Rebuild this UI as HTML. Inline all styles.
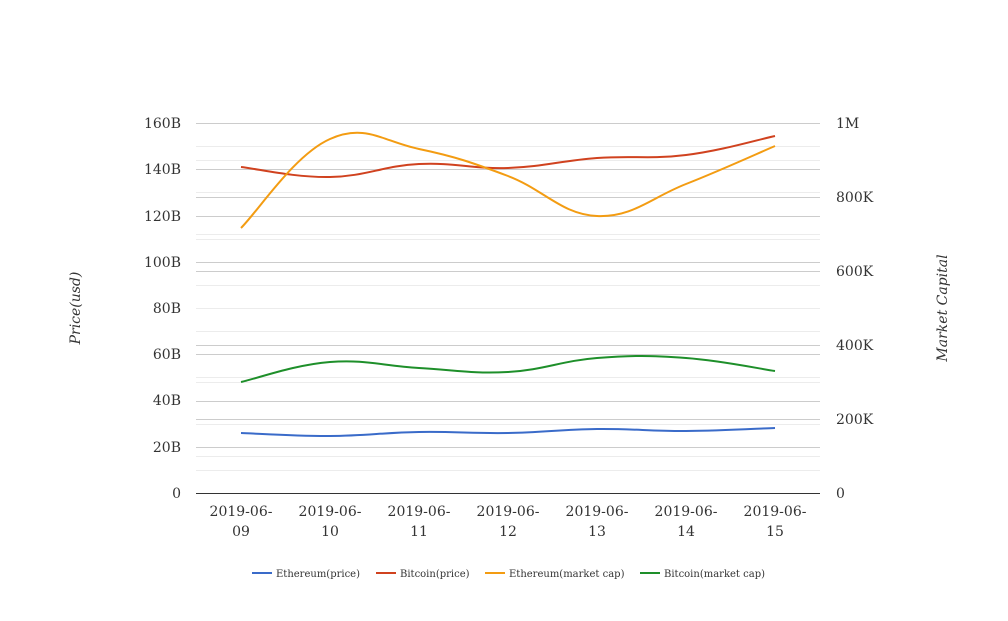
<!DOCTYPE html>
<html><head><meta charset="utf-8"><style>
html,body{margin:0;padding:0;background:#fff;}
svg text{font-family:"DejaVu Serif","Liberation Serif",serif;fill:#333;}
</style></head><body>
<svg id="s" width="1008" height="616" xmlns="http://www.w3.org/2000/svg">
<g id="grid"></g>
<g font-size="14">
<text x="181" y="128" text-anchor="end">160B</text>
<text x="181" y="174" text-anchor="end">140B</text>
<text x="181" y="221" text-anchor="end">120B</text>
<text x="181" y="267" text-anchor="end">100B</text>
<text x="181" y="313" text-anchor="end">80B</text>
<text x="181" y="359" text-anchor="end">60B</text>
<text x="181" y="405" text-anchor="end">40B</text>
<text x="181" y="452" text-anchor="end">20B</text>
<text x="181" y="498" text-anchor="end">0</text>
<text x="836" y="128">1M</text>
<text x="836" y="202">800K</text>
<text x="836" y="276">600K</text>
<text x="836" y="350">400K</text>
<text x="836" y="424">200K</text>
<text x="836" y="498">0</text>
</g>
<g font-size="14" text-anchor="middle" id="xl"></g>
<text font-size="14" font-style="italic" transform="translate(80,308) rotate(-90)" text-anchor="middle">Price(usd)</text>
<text font-size="14" font-style="italic" transform="translate(947,308) rotate(-90)" text-anchor="middle">Market Capital</text>
<line x1="196" y1="493.5" x2="820" y2="493.5" stroke="#333" stroke-width="1"/>
<g id="lines" fill="none" stroke-width="2"></g>
<g font-size="10">
<line x1="252" y1="573" x2="272" y2="573" stroke="#3a6bc9" stroke-width="2"/><text x="276" y="577">Ethereum(price)</text>
<line x1="376" y1="573" x2="396" y2="573" stroke="#d0421f" stroke-width="2"/><text x="400" y="577">Bitcoin(price)</text>
<line x1="485" y1="573" x2="505" y2="573" stroke="#f39c12" stroke-width="2"/><text x="509" y="577">Ethereum(market cap)</text>
<line x1="640" y1="573" x2="660" y2="573" stroke="#1e8f2a" stroke-width="2"/><text x="664" y="577">Bitcoin(market cap)</text>
</g>
</svg>
<script>
var ns="http://www.w3.org/2000/svg";
function el(p,t,a){var e=document.createElementNS(ns,t);for(var k in a)e.setAttribute(k,a[k]);p.appendChild(e);return e;}
var g=document.getElementById('grid');
function hl(y,c){el(g,'line',{x1:196,x2:820,y1:y+0.5,y2:y+0.5,stroke:c,'stroke-width':1});}
for(var i=0;i<8;i++){hl(Math.round(123+46.25*i+23.1),'#ececec');hl(Math.round(123+46.25*i),'#cccccc');}
for(var i=0;i<5;i++){hl(Math.round(123+74*i+37),'#ececec');hl(Math.round(123+74*i),'#cccccc');}
var xs=[241,330,419,508,597,686,775];
var xl=document.getElementById('xl');
xs.forEach(function(x,i){var t=el(xl,'text',{x:x,y:516});t.textContent='2019-06-';var t2=el(xl,'text',{x:x,y:536});t2.textContent=(9+i<10?'0':'')+(9+i);});
var data=[
['#3a6bc9',[433,436,432,433,429,431,428]],
['#d0421f',[167,177,164,168,158,155,136]],
['#f39c12',[228,139,149,176,216,184,146]],
['#1e8f2a',[382,362,368,372,358,358,371]]];
var L=document.getElementById('lines');
data.forEach(function(d){var y=d[1];var p='M'+xs[0]+','+y[0];
for(var i=0;i<6;i++){var x0=xs[Math.max(i-1,0)],y0=y[Math.max(i-1,0)],x1=xs[i],y1=y[i],x2=xs[i+1],y2=y[i+1],x3=xs[Math.min(i+2,6)],y3=y[Math.min(i+2,6)];
var t=0.2;p+=' C'+(x1+(x2-x0)*t)+','+(y1+(y2-y0)*t)+' '+(x2-(x3-x1)*t)+','+(y2-(y3-y1)*t)+' '+x2+','+y2;}
el(L,'path',{d:p,stroke:d[0]});});
</script>
</body></html>
